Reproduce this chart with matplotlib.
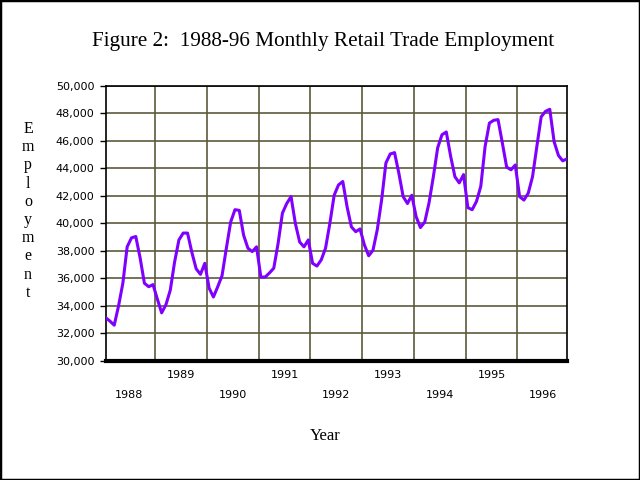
import matplotlib
matplotlib.use("Agg")
import matplotlib.pyplot as plt
import numpy as np
from matplotlib.patches import Rectangle

years = [1988, 1989, 1990, 1991, 1992, 1993, 1994, 1995, 1996]
emp_1988 = [33150, 32900, 32600, 34000, 35650, 38300, 38950, 39050, 37500, 35650, 35400, 35550]
emp_1989 = [34500, 33500, 34100, 35150, 37200, 38800, 39300, 39300, 37900, 36700, 36300, 37100]
emp_1990 = [35300, 34650, 35400, 36200, 38200, 40100, 41000, 40950, 39150, 38200, 37950, 38300]
emp_1991 = [36100, 36100, 36400, 36750, 38550, 40750, 41450, 41950, 40000, 38650, 38300, 38800]
emp_1992 = [37100, 36900, 37350, 38200, 40000, 42050, 42800, 43050, 41200, 39750, 39400, 39600]
emp_1993 = [38450, 37650, 38050, 39550, 41700, 44400, 45050, 45150, 43650, 41950, 41450, 42050]
emp_1994 = [40500, 39700, 40100, 41500, 43400, 45500, 46450, 46650, 44900, 43400, 42950, 43550]
emp_1995 = [41150, 41000, 41600, 42700, 45600, 47300, 47500, 47550, 45850, 44100, 43900, 44250]
emp_1996 = [41950, 41700, 42200, 43400, 45600, 47750, 48150, 48300, 45950, 44950, 44550, 44700]
employment = (emp_1988 + emp_1989 + emp_1990 + emp_1991 + emp_1992 +
              emp_1993 + emp_1994 + emp_1995 + emp_1996)
y_ticks = list(range(30000, 50001, 2000))

serif = "Liberation Serif"
grid_color = "#5c5a3c"

fig = plt.figure(figsize=(6.4, 4.8), dpi=100)
ax = fig.add_axes([0.165, 0.248, 0.721, 0.573])

x = np.arange(len(employment))
ax.plot(x, employment, color="#8000ff", lw=2.2, zorder=3)

ax.set_xlim(0, len(employment) - 1)
ax.set_ylim(30000, 50000)

# year boundaries as vertical gridlines
bounds = [12 * k - 0.5 for k in range(1, len(years))]
ax.set_xticks(bounds)
ax.set_xticklabels([])
ax.tick_params(axis="x", length=0)
ax.set_yticks(y_ticks)
ax.set_yticklabels([f"{v:,}" for v in y_ticks], fontsize=8, family="DejaVu Sans")
ax.tick_params(axis="y", direction="out", length=4, width=1, pad=4, colors="black")
ax.grid(True, color=grid_color, lw=1.2, zorder=1)

for s in ["top", "right", "left"]:
    ax.spines[s].set_linewidth(1.2)
    ax.spines[s].set_color("black")
ax.spines["bottom"].set_linewidth(3)
ax.spines["bottom"].set_color("black")

trans = ax.get_xaxis_transform()
for k, yr in enumerate(years):
    yy = -0.124 if k % 2 == 0 else -0.051
    ax.text(12 * k + 5.5, yy, str(yr), transform=trans, ha="center", va="center",
            fontsize=8, family="DejaVu Sans")

fig.text(0.505, 0.913, "Figure 2:  1988-96 Monthly Retail Trade Employment",
         ha="center", va="center", fontsize=15.3, family=serif)
fig.text(0.508, 0.092, "Year", ha="center", va="center", fontsize=12, family=serif)

for i, ch in enumerate("Employment"):
    yb = 133 + 18.2 * i
    fig.text(28 / 640, 1 - yb / 480, ch, ha="center", va="baseline",
             fontsize=11.5, family=serif)

fig.patches.append(Rectangle((0, 0), 1, 1, transform=fig.transFigure, fill=False,
                             lw=2.5, ec="black"))

fig.savefig("out.png", dpi=100)
